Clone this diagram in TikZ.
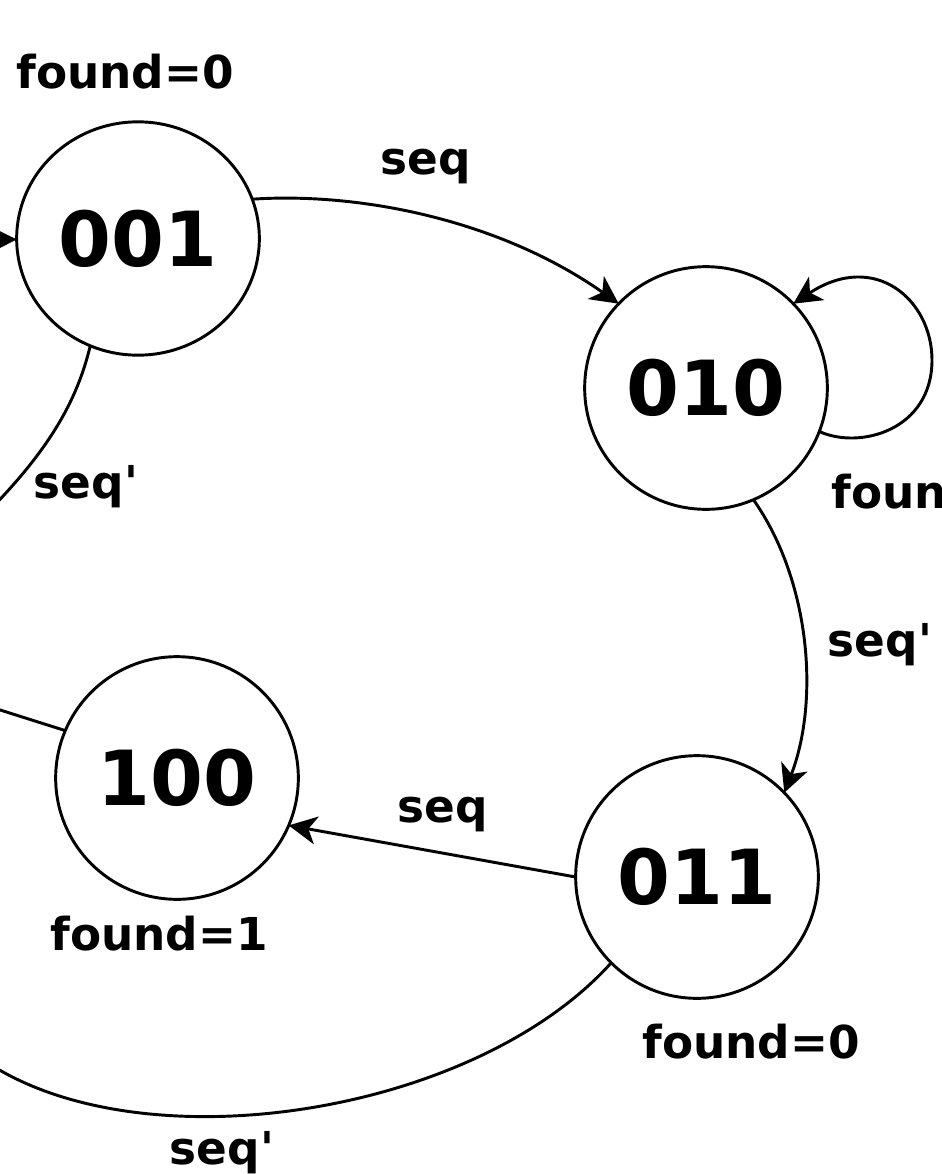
\documentclass[tikz,border=0pt]{standalone}
\usepackage{fontspec}
\setmainfont{DejaVu Sans}
\usetikzlibrary{arrows.meta,shapes.geometric}
\begin{document}
\begin{tikzpicture}[x=0.75pt,y=-0.75pt, line width=2.2pt,
  state/.style={draw, circle, minimum size=182pt, inner sep=0pt, outer sep=0pt,
    font=\fontsize{57}{60}\selectfont\bfseries},
  lbl/.style={font=\fontsize{34}{40}\selectfont\bfseries, inner sep=0pt},
  tr/.style={-{Stealth[length=21pt,width=21pt,inset=6pt]}}]
\useasboundingbox (0,0) rectangle (942,1174);
% states
\node[state, ellipse, minimum width=182pt, minimum height=175pt] (s001) at (138,238.5) {001};
\node[state] (s010) at (706,388) {010};
\node[state] (s100) at (177,778) {100};
\node[state] (s011) at (697,877) {011};
% off-picture ends
\coordinate (inL) at (-60,240);
\coordinate (o001) at (-20,520);
\coordinate (o100) at (-60,691);
\coordinate (oBot) at (-30,1050);
\coordinate (loopR) at (932,360);
% outputs
\node[lbl] (f001) at (125,72) {found=0};
\node[lbl, anchor=west] (f010) at (830,492) {found=0};
\node[lbl] (f100) at (159,934) {found=1};
\node[lbl] (f011) at (751,1042) {found=0};
% transitions
\draw[tr] (inL) -- (s001);
\draw[tr] (s001.19) .. controls (360,192) and (500,220) .. (s010.136);
\draw[tr] (s010.-21) .. controls (860,450) and (932,430) .. (loopR)
  .. controls (932,300) and (875,250) .. (s010.44);
\draw[tr] (s010.-67.6) .. controls (810,580) and (820,700) .. (s011.44);
\draw[tr] (s011.180) -- (s100.-23);
\draw (s001.-114) .. controls (75,410) and (40,460) .. (o001);
\draw (s100.157) -- (o100);
\draw (s011.-135) .. controls (470,1120) and (120,1170) .. (oBot);
% transition labels
\node[lbl] (l1) at (426,167) {seq};
\node[lbl] (l2) at (86,487) {seq\textquotesingle};
\node[lbl] (l3) at (880,645) {seq\textquotesingle};
\node[lbl] (l4) at (443,815) {seq};
\node[lbl] (l5) at (222,1153) {seq\textquotesingle};
\end{tikzpicture}
\end{document}
